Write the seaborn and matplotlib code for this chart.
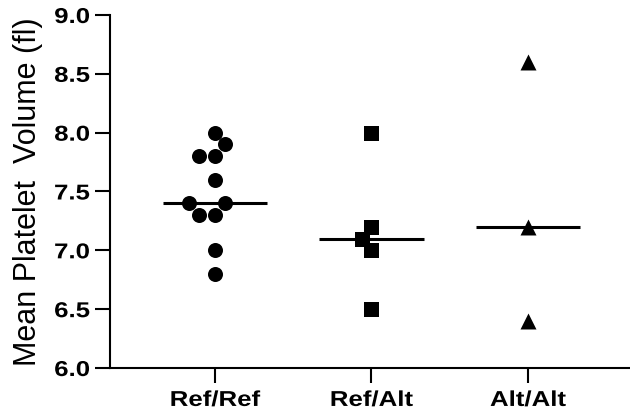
import matplotlib
matplotlib.use("Agg")
import matplotlib.pyplot as plt
from matplotlib.patheffects import AbstractPathEffect
from matplotlib.transforms import Affine2D
import seaborn as sns
import pandas as pd

# Data
groups = ["Ref/Ref", "Ref/Alt", "Alt/Alt"]
ref_ref = [7.9, 8.0, 7.8, 7.8, 7.6, 7.4, 7.4, 7.3, 7.3, 7.0, 6.8]
ref_alt = [8.0, 7.2, 7.1, 7.0, 6.5]
alt_alt = [8.6, 7.2, 6.4]
y_ticks = [6.0, 6.5, 7.0, 7.5, 8.0, 8.5, 9.0]
y_label = "Mean Platelet  Volume (fl)"

df = pd.DataFrame({
    "group": [groups[0]] * len(ref_ref) + [groups[1]] * len(ref_alt) + [groups[2]] * len(alt_alt),
    "value": ref_ref + ref_alt + alt_alt,
})


class HStretch(AbstractPathEffect):
    """Widen glyphs horizontally about a chosen anchor (center/right)."""
    def __init__(self, sx, anchor="center"):
        super().__init__()
        self.sx = sx
        self.anchor = anchor

    def draw_path(self, renderer, gc, tpath, affine, rgbFace=None):
        ext = tpath.get_extents()
        if self.anchor == "right":
            cx = ext.x1
        elif self.anchor == "left":
            cx = ext.x0
        else:
            cx = (ext.x0 + ext.x1) / 2
        pre = Affine2D().translate(-cx, 0).scale(self.sx, 1).translate(cx, 0)
        renderer.draw_path(gc, tpath, pre + affine, rgbFace)


sns.set_style("ticks")
plt.rcParams["font.family"] = ["Liberation Sans", "DejaVu Sans"]

W, H = 630, 415
fig = plt.figure(figsize=(W / 100, H / 100), dpi=100)
ax_left, ax_right, ax_top, ax_bot = 110, 630, 15, 368
ax = fig.add_axes([ax_left / W, (H - ax_bot) / H, (ax_right - ax_left) / W, (ax_bot - ax_top) / H])

# median lines
sns.boxplot(data=df, x="group", y="value", order=groups, width=0.665,
            showbox=False, showcaps=False, showfliers=False,
            whiskerprops={"visible": False},
            medianprops={"color": "black", "linewidth": 2.2, "solid_capstyle": "butt"},
            ax=ax, zorder=1)

markers = ["o", "s", "^"]
sizes = [10.8, 10.8, 11.5]
for g, m, s in zip(groups, markers, sizes):
    sns.swarmplot(data=df[df["group"] == g], x="group", y="value", order=groups,
                  marker=m, size=s, color="black", linewidth=0, ax=ax, zorder=3)

ax.set_xlim(-0.671, 2.652)
ax.set_ylim(6.0, 9.0)
ax.set_yticks(y_ticks)
ax.set_yticklabels([f"{v:.1f}" for v in y_ticks])
ax.set_xticks(range(len(groups)))
ax.set_xticklabels(groups)

for sp in ["top", "right"]:
    ax.spines[sp].set_visible(False)
for sp in ["left", "bottom"]:
    ax.spines[sp].set_linewidth(1.5)
    ax.spines[sp].set_color("black")

ax.tick_params(axis="both", direction="out", length=10.8, width=1.5, color="black")
ax.tick_params(axis="y", pad=3.6)
ax.tick_params(axis="x", pad=5.0)
for lab in ax.get_xticklabels():
    lab.set_fontweight("bold")
    lab.set_fontsize(15.5)
    lab.set_color("black")
    lab.set_path_effects([HStretch(1.2, "center")])
for lab in ax.get_yticklabels():
    lab.set_fontweight("bold")
    lab.set_fontsize(15.5)
    lab.set_color("black")
    lab.set_path_effects([HStretch(1.2, "right")])

ax.set_xlabel("")
ax.set_ylabel(y_label, fontsize=22, color="black")
ax.yaxis.set_label_coords((43 - ax_left) / (ax_right - ax_left), 0.5)

fig.savefig("out.png", dpi=100)
